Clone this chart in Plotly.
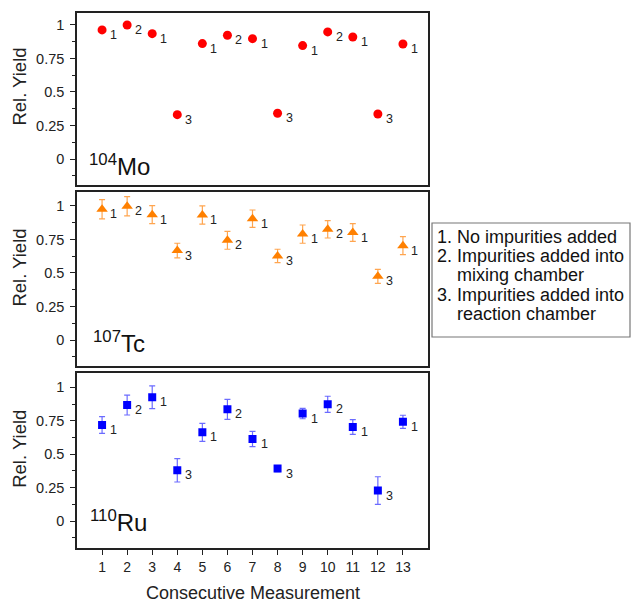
import plotly.graph_objects as go

measurement = list(range(1, 14))
condition = ["1", "2", "1", "3", "1", "2", "1", "3", "1", "2", "1", "3", "1"]
mo_yield = [0.963, 1.0, 0.935, 0.331, 0.861, 0.923, 0.898, 0.341, 0.846, 0.948, 0.910, 0.336, 0.858]
tc_yield = [0.975, 0.998, 0.935, 0.667, 0.932, 0.744, 0.905, 0.627, 0.790, 0.826, 0.802, 0.475, 0.704]
tc_err = [0.072, 0.072, 0.067, 0.055, 0.068, 0.067, 0.065, 0.050, 0.068, 0.065, 0.066, 0.052, 0.067]
ru_yield = [0.718, 0.867, 0.925, 0.379, 0.663, 0.835, 0.613, 0.392, 0.804, 0.873, 0.703, 0.228, 0.742]
ru_err = [0.062, 0.074, 0.085, 0.087, 0.067, 0.075, 0.057, 0.022, 0.039, 0.060, 0.055, 0.103, 0.049]
x_ticks = list(range(1, 14))
y_ticks = [0, 0.25, 0.5, 0.75, 1]
y_tick_text = ["0", "0.25", "0.5", "0.75", "1"]
legend_lines = ["1. No impurities added", "2. Impurities added into",
                "\u00a0\u00a0\u00a0\u00a0mixing chamber", "3. Impurities added into",
                "\u00a0\u00a0\u00a0\u00a0reaction chamber"]

W, H = 634, 602
FONT = "Liberation Sans, Arial, sans-serif"

def px_x(p):
    return p / W

def px_y(p):
    return 1 - p / H

xdom = [px_x(77), px_x(428)]
panels = [
    dict(name="<sup>104</sup>Mo", y=mo_yield, err=None, color="#ff0000", errc=None,
         symbol="circle", size=9, dom=[px_y(185), px_y(13.3)], rng=[-0.194, 1.087],
         lx=0.40, ly=-0.045),
    dict(name="<sup>107</sup>Tc", y=tc_yield, err=tc_err, color="#ff8000", errc="#ffa54f",
         symbol="triangle-up", size=10, dom=[px_y(366), px_y(192.3)], rng=[-0.194, 1.102],
         lx=0.57, ly=-0.015),
    dict(name="<sup>110</sup>Ru", y=ru_yield, err=ru_err, color="#0000ff", errc="#6b6bff",
         symbol="square", size=8, dom=[px_y(548.3), px_y(373)], rng=[-0.204, 1.107],
         lx=0.42, ly=0.0),
]

fig = go.Figure()
annotations = []
layout = dict(width=W, height=H, margin=dict(l=0, r=0, t=0, b=0),
              paper_bgcolor="white", plot_bgcolor="white", showlegend=False,
              font=dict(family=FONT, color="#222"))

for i, p in enumerate(panels):
    n = i + 1
    xa = "x" if n == 1 else f"x{n}"
    ya = "y" if n == 1 else f"y{n}"
    tr = dict(x=measurement, y=p["y"], mode="markers", xaxis=xa, yaxis=ya,
              marker=dict(color=p["color"], symbol=p["symbol"], size=p["size"]))
    if p["err"] is not None:
        tr["error_y"] = dict(type="data", array=p["err"], visible=True,
                             color=p["errc"], thickness=1.2, width=3)
    fig.add_trace(go.Scatter(**tr))
    bottom = (n == 3)
    layout[f"xaxis{'' if n == 1 else n}"] = dict(
        domain=xdom, anchor=ya, range=[0, 14], showline=True, linecolor="#222",
        linewidth=1.5, mirror=True, showgrid=False, zeroline=False,
        ticks="outside" if bottom else "", ticklen=5, tickcolor="#222",
        tickvals=x_ticks, showticklabels=bottom,
        tickfont=dict(size=14, family=FONT, color="#222"))
    layout[f"yaxis{'' if n == 1 else n}"] = dict(
        domain=p["dom"], anchor=xa, range=p["rng"], showline=True, linecolor="#222",
        linewidth=1.5, mirror=True, showgrid=False, zeroline=False,
        ticks="outside", ticklen=5, tickcolor="#222", tickvals=y_ticks,
        ticktext=y_tick_text, ticklabelstandoff=3,
        minor=dict(ticks="outside", ticklen=3, dtick=0.125, tick0=0, tickcolor="#222"),
        tickfont=dict(size=14.5, family=FONT, color="#222"))
    layout[f"yaxis{n + 3}"] = dict(
        domain=p["dom"], anchor=xa, overlaying=ya, side="right", range=p["rng"],
        showline=False, showgrid=False, zeroline=False, ticks="inside", ticklen=6,
        tickcolor="#222", tickvals=y_ticks, showticklabels=False,
        minor=dict(ticks="inside", ticklen=3, dtick=0.125, tick0=0, tickcolor="#222"))
    for xv, yv, c in zip(measurement, p["y"], condition):
        annotations.append(dict(x=xv, y=yv, xref=xa, yref=ya, text=c, showarrow=False,
                                xanchor="left", yanchor="middle", xshift=6, yshift=-5,
                                font=dict(size=12.5, family=FONT, color="#222")))
    annotations.append(dict(x=p["lx"], y=p["ly"], xref=xa, yref=ya, text=p["name"],
                            showarrow=False, xanchor="left", yanchor="middle",
                            font=dict(size=24, family=FONT, color="#111")))
    annotations.append(dict(x=px_x(20), y=0.54, xref="paper", yref=ya, text="Rel. Yield",
                            textangle=-90, showarrow=False, xanchor="center",
                            yanchor="middle", font=dict(size=18.5, family=FONT, color="#222")))

annotations.append(dict(x=px_x(252.5), y=px_y(593), xref="paper", yref="paper",
                        text="Consecutive Measurement", showarrow=False,
                        xanchor="center", yanchor="middle",
                        font=dict(size=18, family=FONT, color="#222")))
line_y = [236.7, 255.7, 275.0, 295.0, 314.0]
for txt, yy in zip(legend_lines, line_y):
    annotations.append(dict(x=px_x(435), y=px_y(yy), xref="paper", yref="paper",
                            text=txt, showarrow=False, xanchor="left", yanchor="middle",
                            font=dict(size=18, family=FONT, color="#111")))
layout["annotations"] = annotations
layout["shapes"] = [dict(type="rect", xref="paper", yref="paper",
                         x0=px_x(432), x1=px_x(630), y0=px_y(337), y1=px_y(223),
                         line=dict(color="#777", width=1.2), fillcolor="rgba(0,0,0,0)")]
fig.update_layout(**layout)
fig.write_html("out.html")
